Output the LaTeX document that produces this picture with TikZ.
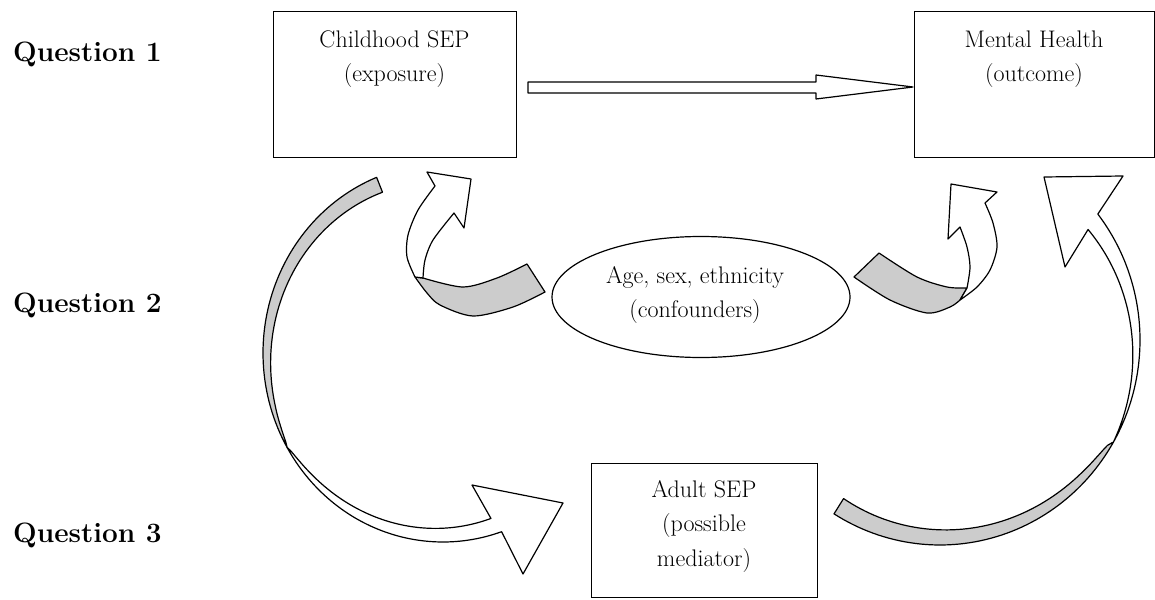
\documentclass[tikz,border=0pt]{standalone}
\usetikzlibrary{calc,shapes.geometric}
\definecolor{ribbongray}{HTML}{CCCCCC}
\begin{document}
\begin{tikzpicture}[x=1pt,y=-1pt,
  frame/.style={draw, line width=1.3pt, inner sep=0pt},
  ribbon/.style={draw, line width=1.2pt, line join=round, fill=white},
  backface/.style={draw, line width=1.2pt, line join=round, fill=ribbongray},
  lbl/.style={font=\fontsize{24}{34.5}\selectfont, align=center, inner sep=0pt, anchor=north},
  qlabel/.style={font=\fontsize{28}{34}\selectfont\bfseries, anchor=base west, inner sep=0pt},
  % ribbon widths along the two large curved arrows (t = angle on the arc)
  declare function={
    wbl(\t)=16*(max(\t-150,0.01)/98.35)^0.6;
    wcl(\t)=16*(max(150-\t,0.01)/77)^0.6;
    wgr(\t)=18*(max(\t-30,0.01)/92)^0.4;
    wwr(\t)=17*max(30-\t,0)/66;
  }]
\useasboundingbox (0,0) rectangle (1155,599);

% row labels
\node[qlabel] (q1) at (13,62) {Question 1};
\node[qlabel] (q2) at (13,312) {Question 2};
\node[qlabel] (q3) at (13,542) {Question 3};

% boxes
\node[frame, minimum width=243pt, minimum height=146pt, anchor=north west] (child) at (273,11) {};
\node[frame, minimum width=240pt, minimum height=146pt, anchor=north west] (mental) at (914,11) {};
\node[frame, minimum width=226pt, minimum height=134pt, anchor=north west] (adult) at (591,463) {};
\node[draw, line width=1.2pt, ellipse, minimum width=298pt, minimum height=121pt, inner sep=0pt] (conf) at (701,297) {};

\node[lbl] (childtxt) at (394.5,30.3) {Childhood SEP\\(exposure)};
\node[lbl] (mentaltxt) at (1034,30.3) {Mental Health\\(outcome)};
\node[lbl] (conftxt) at (695,266.3) {Age, sex, ethnicity\\(confounders)};
\node[lbl] (adulttxt) at (704,480.3) {Adult SEP\\(possible\\mediator)};

% straight block arrow: exposure -> outcome
\coordinate (sa) at (528,82);
\coordinate (tip) at (913,87);
\filldraw[ribbon] (sa) -- (816,82) -- (816,75) -- (tip) -- (816,99) -- (816,93) -- (528,93) -- cycle;

% large curved arrow: childhood SEP -> adult SEP
\filldraw[backface]
  plot[domain=248.35:150, samples=60, variable=\t] ({443+180*cos(\t)},{353+189*sin(\t)})
  -- plot[domain=150:248.35, samples=60, variable=\t] ({443+(180-wbl(\t))*cos(\t)},{353+(189-wbl(\t))*sin(\t)})
  -- cycle;
\filldraw[ribbon]
  plot[domain=150:71, samples=60, variable=\t] ({443+180*cos(\t)},{353+189*sin(\t)})
  -- (523,574) -- (563,503) -- (472,485)
  -- plot[domain=73:150, samples=60, variable=\t] ({443+(180-wcl(\t))*cos(\t)},{353+(189-wcl(\t))*sin(\t)})
  -- cycle;

% small curved arrow: confounders -> childhood SEP
\filldraw[backface] plot[smooth] coordinates {(415,277) (427,293) (440,305) (473,316) (513,307) (545,292)}
  -- (527,264) -- plot[smooth] coordinates {(527,264) (497,278) (463,287) (423,278)} -- cycle;
\filldraw[ribbon] plot[smooth] coordinates {(415,277) (407,257) (408,235) (418,210) (435,186)}
  -- (427,172) -- (471,179) -- (464,228)
  -- plot[smooth] coordinates {(454,213) (433,240) (425,260) (423,278)} -- cycle;

% small curved arrow: confounders -> mental health
\filldraw[backface] plot[smooth] coordinates {(854,277) (890,300) (927,313) (950,307) (960,300)}
  -- (967,288) -- plot[smooth] coordinates {(967,288) (947,287) (917,277) (879,253)} -- cycle;
\filldraw[ribbon] plot[smooth] coordinates {(967,288) (970,267) (967,247) (960,227)}
  -- (948,239) -- (951,184) -- (997,192)
  -- plot[smooth] coordinates {(985,203) (993,223) (997,247) (990,270) (977,287) (960,300)} -- cycle;

% large curved arrow: adult SEP -> mental health
\filldraw[backface]
  plot[domain=122:30, samples=60, variable=\t] ({940+200*cos(\t)},{340+205*sin(\t)})
  -- plot[domain=30:122, samples=60, variable=\t] ({940+(200-wgr(\t))*cos(\t)},{340+(205-wgr(\t))*sin(\t)})
  -- cycle;
\filldraw[ribbon]
  plot[domain=30:-37.9, samples=60, variable=\t] ({940+200*cos(\t)},{340+205*sin(\t)})
  -- (1123,176) -- (1044,177) -- (1065,267)
  -- plot[domain=-36:30, samples=60, variable=\t] ({940+(200-wwr(\t))*cos(\t)},{340+(205-wwr(\t))*sin(\t)})
  -- cycle;
\end{tikzpicture}
\end{document}
